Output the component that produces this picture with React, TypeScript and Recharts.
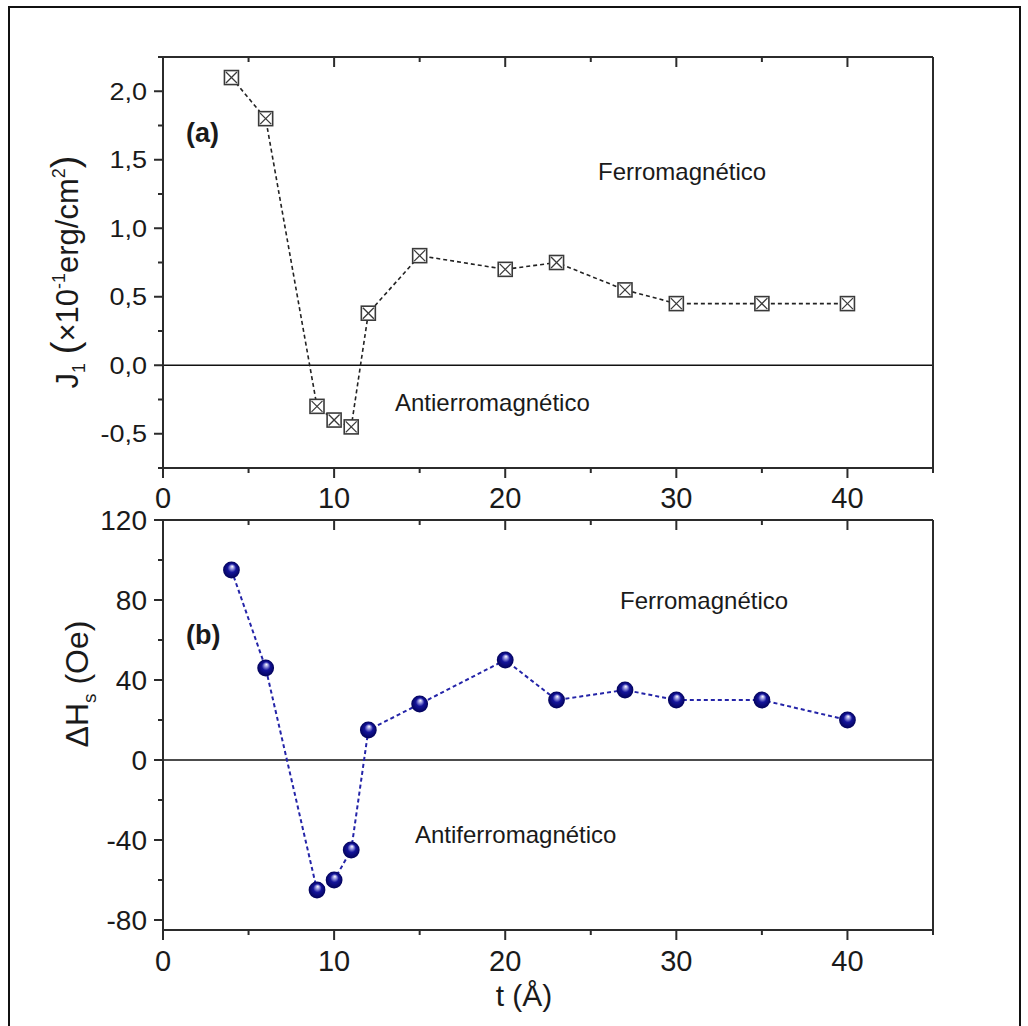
import React from 'react';
import { LineChart, Line, XAxis, YAxis, ReferenceLine } from 'recharts';

const thickness = [4, 6, 9, 10, 11, 12, 15, 20, 23, 27, 30, 35, 40];
const j1Values = [2.1, 1.8, -0.3, -0.4, -0.45, 0.38, 0.8, 0.7, 0.75, 0.55, 0.45, 0.45, 0.45];
const dHsValues = [95, 46, -65, -60, -45, 15, 28, 50, 30, 35, 30, 30, 20];

const xTicks = [0, 5, 10, 15, 20, 25, 30, 35, 40, 45];
const xMajorLabels = [0, 10, 20, 30, 40];
const j1Ticks = [-0.75, -0.5, -0.25, 0, 0.25, 0.5, 0.75, 1, 1.25, 1.5, 1.75, 2, 2.25];
const j1MajorLabels = [-0.5, 0, 0.5, 1, 1.5, 2];
const dHsTicks = [-80, -60, -40, -20, 0, 20, 40, 60, 80, 100, 120];
const dHsMajorLabels = [-80, -40, 0, 40, 80, 120];

const topData = thickness.map((t, i) => ({ t, j1: j1Values[i] }));
const bottomData = thickness.map((t, i) => ({ t, dhs: dHsValues[i] }));

const FONT = '"Liberation Sans", Arial, Helvetica, sans-serif';
const AXIS = '#2b2b2b';
const TXT = '#1a1a1a';
const axisStyle = { stroke: AXIS, strokeWidth: 2 };

const isIn = (arr: number[], v: number) => arr.some((a) => Math.abs(a - v) < 1e-6);
const comma = (v: number) => v.toFixed(1).replace('.', ',');

const makeBottomTick = (labelDy: number) => (props: any) => {
  const { x, y, payload } = props;
  const v = payload.value;
  const major = isIn(xMajorLabels, v);
  return (
    <g>
      <line x1={x} x2={x} y1={y} y2={y + (major ? 10 : 5)} stroke={AXIS} strokeWidth={2} />
      {major && (
        <text x={x} y={y + labelDy} textAnchor="middle" fontSize={29} fill={TXT} fontFamily={FONT}>
          {v}
        </text>
      )}
    </g>
  );
};

const TopTick = (props: any) => {
  const { x, y, payload } = props;
  const major = isIn(xMajorLabels, payload.value);
  return <line x1={x} x2={x} y1={y} y2={y + (major ? 10 : 5)} stroke={AXIS} strokeWidth={2} />;
};

const makeLeftTick = (majors: number[], fmt: (v: number) => string, fontSize: number, sy: number) => (props: any) => {
  const { x, y, payload } = props;
  const v = payload.value;
  const major = isIn(majors, v);
  const base = y + 0.358 * fontSize * sy;
  return (
    <g>
      <line x1={x} x2={x - (major ? 9 : 5)} y1={y} y2={y} stroke={AXIS} strokeWidth={2} />
      {major && (
        <text
          transform={`translate(${x - 16},${base}) scale(1,${sy})`}
          textAnchor="end"
          fontSize={fontSize}
          fill={TXT}
          fontFamily={FONT}
        >
          {fmt(v)}
        </text>
      )}
    </g>
  );
};

const makeRightTick = (majors: number[]) => (props: any) => {
  const { x, y, payload } = props;
  const major = isIn(majors, payload.value);
  return <line x1={x} x2={x - (major ? 9 : 5)} y1={y} y2={y} stroke={AXIS} strokeWidth={2} />;
};

const BoxDot = (props: any) => {
  const { cx, cy } = props;
  if (cx == null || cy == null) return <g />;
  const s = 7;
  return (
    <g>
      <rect x={cx - s} y={cy - s} width={2 * s} height={2 * s} fill="#fff" stroke="#3a3a3a" strokeWidth={1.6} />
      <line x1={cx - s + 1.5} y1={cy - s + 1.5} x2={cx + s - 1.5} y2={cy + s - 1.5} stroke="#3a3a3a" strokeWidth={1.3} />
      <line x1={cx - s + 1.5} y1={cy + s - 1.5} x2={cx + s - 1.5} y2={cy - s + 1.5} stroke="#3a3a3a" strokeWidth={1.3} />
    </g>
  );
};

const SphereDot = (props: any) => {
  const { cx, cy } = props;
  if (cx == null || cy == null) return <g />;
  return (
    <g>
      <defs>
        <radialGradient id="sphereGrad" cx="0.5" cy="0.5" r="0.5" fx="0.55" fy="0.28">
          <stop offset="0" stopColor="#ffffff" />
          <stop offset="0.22" stopColor="#9a9ae0" />
          <stop offset="0.5" stopColor="#14149a" />
          <stop offset="1" stopColor="#02025a" />
        </radialGradient>
      </defs>
      <circle cx={cx} cy={cy} r={8.4} fill="url(#sphereGrad)" />
    </g>
  );
};

const topLeftTick = makeLeftTick(j1MajorLabels, comma, 27, 0.86);
const bottomLeftTick = makeLeftTick(dHsMajorLabels, (v) => String(v), 28, 1);
const topRightTick = makeRightTick(j1MajorLabels);
const bottomRightTick = makeRightTick(dHsMajorLabels);
const topBottomTick = makeBottomTick(40);
const botBottomTick = makeBottomTick(41);

export default function App() {
  return (
    <div
      style={{
        position: 'absolute',
        left: 0,
        top: 0,
        width: 1028,
        height: 1026,
        overflow: 'hidden',
        background: '#fff',
        fontFamily: FONT,
      }}
    >
      <div
        style={{
          position: 'absolute',
          left: 8,
          top: 6,
          width: 1013,
          height: 1040,
          border: '2px solid #111',
          boxSizing: 'border-box',
        }}
      />
      <div style={{ position: 'absolute', left: 0, top: 0 }}>
        <LineChart width={1028} height={514} data={topData} margin={{ top: 57, right: 95, bottom: 6, left: 83 }}>
          <XAxis
            xAxisId="b"
            type="number"
            dataKey="t"
            domain={[0, 45]}
            ticks={xTicks}
            interval={0}
            height={40}
            tickSize={0}
            tickMargin={0}
            tick={topBottomTick}
            axisLine={axisStyle}
            tickLine={false}
          />
          <XAxis
            xAxisId="t"
            orientation="top"
            mirror
            type="number"
            dataKey="t"
            domain={[0, 45]}
            ticks={xTicks}
            interval={0}
            tickSize={0}
            tickMargin={0}
            tick={TopTick}
            axisLine={axisStyle}
            tickLine={false}
          />
          <YAxis
            yAxisId="l"
            type="number"
            domain={[-0.75, 2.25]}
            ticks={j1Ticks}
            interval={0}
            width={80}
            tickSize={0}
            tickMargin={0}
            tick={topLeftTick}
            axisLine={axisStyle}
            tickLine={false}
          />
          <YAxis
            yAxisId="r"
            orientation="right"
            mirror
            type="number"
            domain={[-0.75, 2.25]}
            ticks={j1Ticks}
            interval={0}
            tickSize={0}
            tickMargin={0}
            tick={topRightTick}
            axisLine={axisStyle}
            tickLine={false}
          />
          <ReferenceLine xAxisId="b" yAxisId="l" y={0} stroke="#111" strokeWidth={1.6} />
          <Line
            xAxisId="b"
            yAxisId="l"
            type="linear"
            dataKey="j1"
            stroke="#222"
            strokeWidth={1.6}
            strokeDasharray="4 3"
            dot={(p: any) => <BoxDot key={`a${p.index}`} {...p} />}
            activeDot={false}
            isAnimationActive={false}
          />
        </LineChart>
      </div>
      <div style={{ position: 'absolute', left: 0, top: 490 }}>
        <LineChart width={1028} height={536} data={bottomData} margin={{ top: 30, right: 95, bottom: 56, left: 83 }}>
          <XAxis
            xAxisId="b"
            type="number"
            dataKey="t"
            domain={[0, 45]}
            ticks={xTicks}
            interval={0}
            height={40}
            tickSize={0}
            tickMargin={0}
            tick={botBottomTick}
            axisLine={axisStyle}
            tickLine={false}
          />
          <XAxis
            xAxisId="t"
            orientation="top"
            mirror
            type="number"
            dataKey="t"
            domain={[0, 45]}
            ticks={xTicks}
            interval={0}
            tickSize={0}
            tickMargin={0}
            tick={TopTick}
            axisLine={axisStyle}
            tickLine={false}
          />
          <YAxis
            yAxisId="l"
            type="number"
            domain={[-85, 120]}
            ticks={dHsTicks}
            interval={0}
            width={80}
            tickSize={0}
            tickMargin={0}
            tick={bottomLeftTick}
            axisLine={axisStyle}
            tickLine={false}
          />
          <YAxis
            yAxisId="r"
            orientation="right"
            mirror
            type="number"
            domain={[-85, 120]}
            ticks={dHsTicks}
            interval={0}
            tickSize={0}
            tickMargin={0}
            tick={bottomRightTick}
            axisLine={axisStyle}
            tickLine={false}
          />
          <ReferenceLine xAxisId="b" yAxisId="l" y={0} stroke="#111" strokeWidth={1.6} />
          <Line
            xAxisId="b"
            yAxisId="l"
            type="linear"
            dataKey="dhs"
            stroke="#2424a8"
            strokeWidth={2}
            strokeDasharray="4 3"
            dot={(p: any) => <SphereDot key={`b${p.index}`} {...p} />}
            activeDot={false}
            isAnimationActive={false}
          />
        </LineChart>
      </div>
      <svg
        width={1028}
        height={1026}
        style={{ position: 'absolute', left: 0, top: 0, pointerEvents: 'none' }}
        fontFamily={FONT}
        fill={TXT}
      >
        <text transform="translate(78,272) rotate(-90)" textAnchor="middle" fontSize={31}>
          J<tspan fontSize={18} dy={7}>1</tspan>
          <tspan dy={-7}> </tspan>
          <tspan fontSize={38}>(</tspan>
          <tspan>×10</tspan>
          <tspan fontSize={18} dy={-13}>-1</tspan>
          <tspan dy={13}>erg/cm</tspan>
          <tspan fontSize={18} dy={-13}>2</tspan>
          <tspan fontSize={38} dy={13}>)</tspan>
        </text>
        <text transform="translate(88,684) rotate(-90)" textAnchor="middle" fontSize={32}>
          ΔH<tspan fontSize={19} dy={8}>s</tspan>
          <tspan dy={-8}> (Oe)</tspan>
        </text>
        <text x={524} y={1006} textAnchor="middle" fontSize={30}>
          t (Å)
        </text>
        <text x={186} y={142} fontSize={27} fontWeight="bold">
          (a)
        </text>
        <text x={186} y={644} fontSize={27} fontWeight="bold">
          (b)
        </text>
        <text x={598} y={180} fontSize={24}>
          Ferromagnético
        </text>
        <text x={395} y={411} fontSize={24}>
          Antierromagnético
        </text>
        <text x={620} y={609} fontSize={24}>
          Ferromagnético
        </text>
        <text x={415} y={843} fontSize={24}>
          Antiferromagnético
        </text>
      </svg>
    </div>
  );
}
